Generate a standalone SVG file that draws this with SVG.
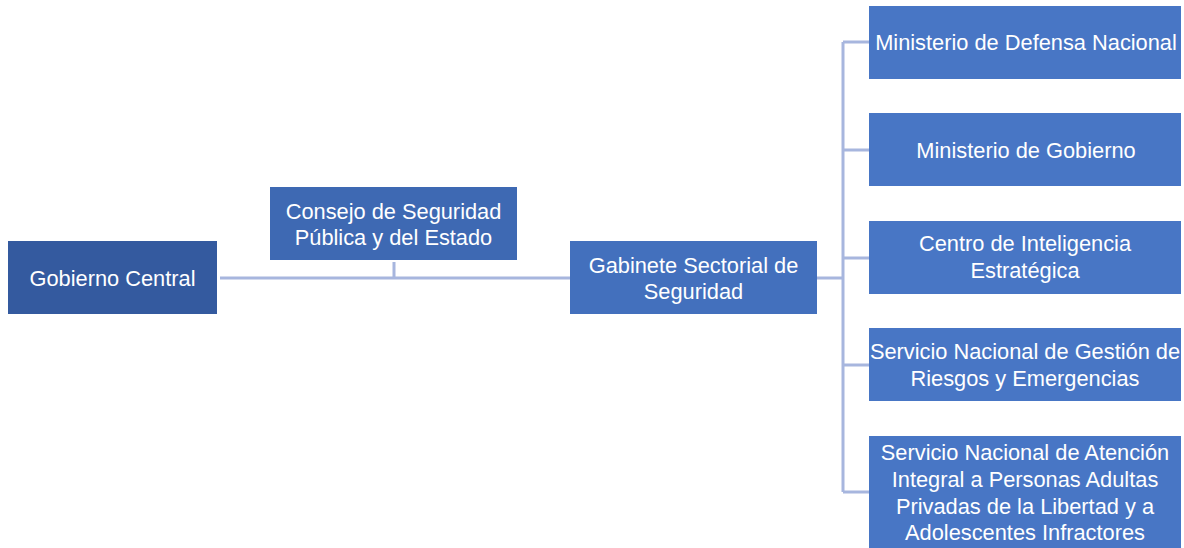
<svg xmlns="http://www.w3.org/2000/svg" width="1184" height="548" viewBox="0 0 1184 548">
<style>
.n{stroke:none}
.t{font-family:"Liberation Sans",Arial,sans-serif;font-size:21.8px;fill:#ffffff;text-anchor:middle;dominant-baseline:central}
.c{fill:none;stroke:#A7B6DE;stroke-width:3}
</style>
<rect width="1184" height="548" fill="#ffffff"/>
<g id="connectors">
<path class="c" d="M220 278 H570 M394 262 V278"/>
<path class="c" d="M817 278 H843 M843 42 V492 M843 42 H869 M843 150 H869 M843 258 H869 M843 365 H869 M843 492 H869"/>
</g>
<g id="gobierno-central">
<rect class="n" x="8" y="241" width="209" height="73" fill="#345A9F"/>
<text class="t" x="112.5" y="278">Gobierno Central</text>
</g>
<g id="consejo">
<rect class="n" x="270" y="187" width="247" height="73" fill="#3E69B3"/>
<text class="t" x="393.5" y="211">Consejo de Seguridad</text>
<text class="t" x="393.5" y="237">Pública y del Estado</text>
</g>
<g id="gabinete">
<rect class="n" x="570" y="241" width="247" height="73" fill="#4370BD"/>
<text class="t" x="693.5" y="265">Gabinete Sectorial de</text>
<text class="t" x="693.5" y="291">Seguridad</text>
</g>
<g id="ministerio-defensa">
<rect class="n" x="869" y="6" width="312" height="73" fill="#4876C5"/>
<text class="t" x="1026" y="42">Ministerio de Defensa Nacional</text>
</g>
<g id="ministerio-gobierno">
<rect class="n" x="869" y="113" width="312" height="73" fill="#4876C5"/>
<text class="t" x="1026" y="150">Ministerio de Gobierno</text>
</g>
<g id="centro-inteligencia">
<rect class="n" x="869" y="221" width="312" height="73" fill="#4876C5"/>
<text class="t" x="1025" y="243">Centro de Inteligencia</text>
<text class="t" x="1025" y="270">Estratégica</text>
</g>
<g id="servicio-riesgos">
<rect class="n" x="869" y="328" width="312" height="73" fill="#4876C5"/>
<text class="t" x="1025" y="351">Servicio Nacional de Gestión de</text>
<text class="t" x="1025" y="378">Riesgos y Emergencias</text>
</g>
<g id="servicio-atencion">
<rect class="n" x="869" y="436" width="312" height="112" fill="#4876C5"/>
<text class="t" x="1025" y="452">Servicio Nacional de Atención</text>
<text class="t" x="1025" y="479">Integral a Personas Adultas</text>
<text class="t" x="1025" y="506">Privadas de la Libertad y a</text>
<text class="t" x="1025" y="532">Adolescentes Infractores</text>
</g>
</svg>
